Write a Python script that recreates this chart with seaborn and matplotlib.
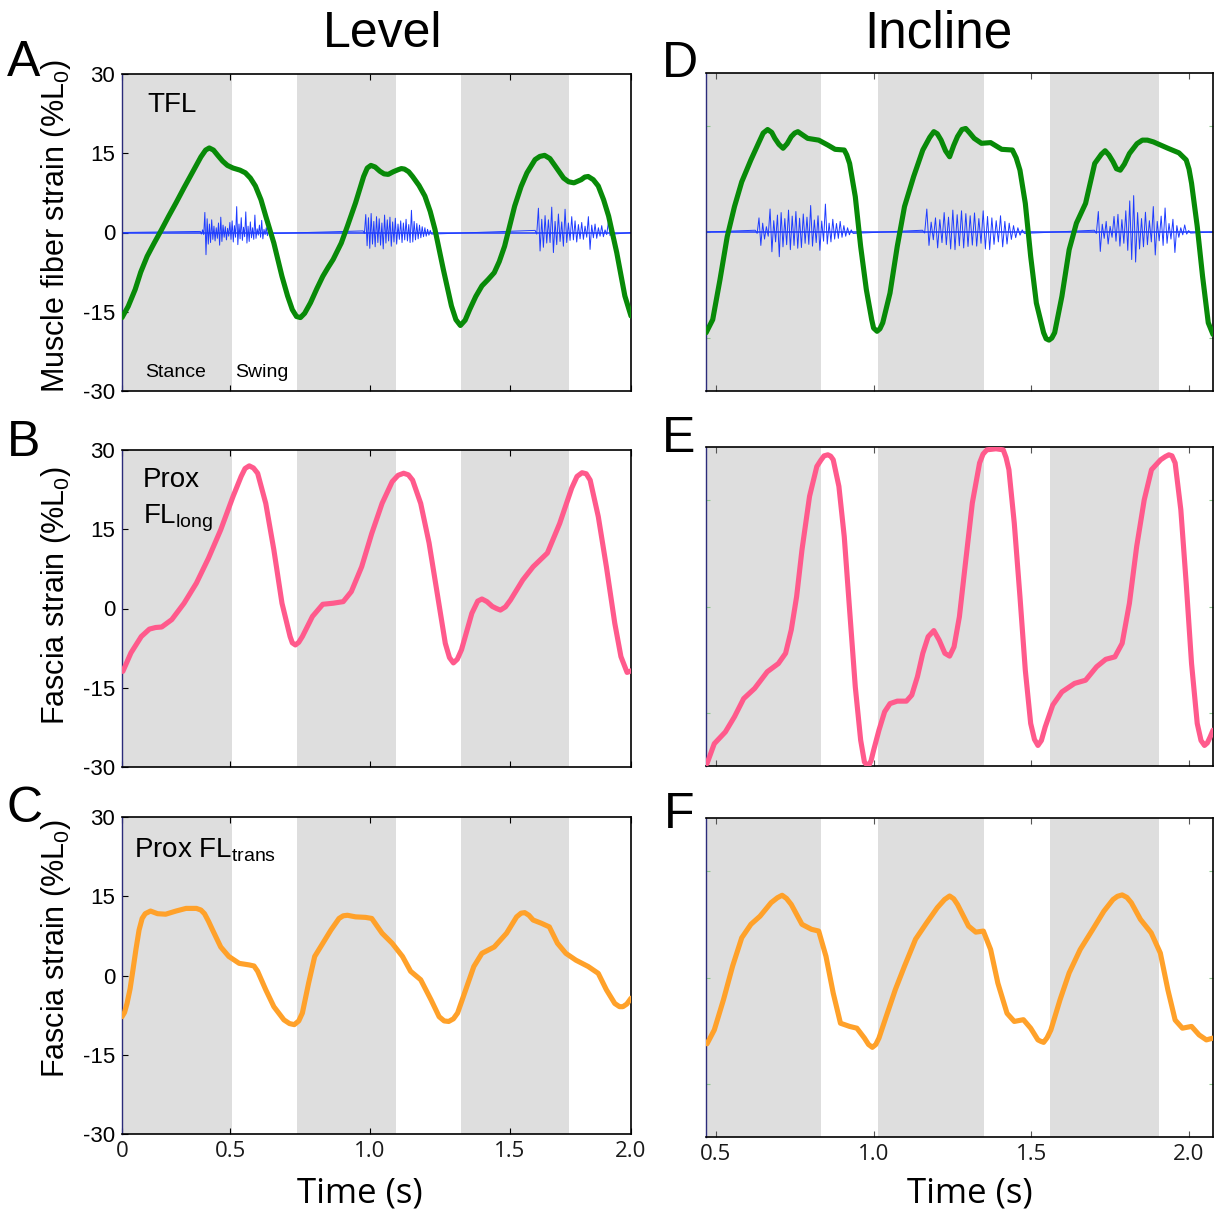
import numpy as np
import pandas as pd
import matplotlib
matplotlib.use("Agg")
import matplotlib.pyplot as plt
import seaborn as sns

# ---------------- data ----------------
level_stance = [(0.05, 0.507), (0.739, 1.092), (1.325, 1.711)]
incline_stance = [(0.40, 0.833), (1.013, 1.349), (1.558, 1.904)]

level_xticks = [0.113, 0.5, 1.0, 1.5, 1.933]
level_xticklabels = ["0", "0.5", "1.0", "1.5", "2.0"]
incline_xticks = [0.5, 1.0, 1.5, 2.0]
incline_xticklabels = ["0.5", "1.0", "1.5", "2.0"]
level_yticks = [-30, -15, 0, 15, 30]
level_yticklabels = ["-30", "-15", "0", "15", "30"]
incline_yticks = [-30, 0, 30]

# A: TFL muscle fibre strain, level
tfl_level_t = [0.113, 0.135, 0.160, 0.180, 0.203, 0.228, 0.255, 0.280, 0.306, 0.335,
               0.364, 0.395, 0.412, 0.425, 0.440, 0.457, 0.473, 0.490, 0.510, 0.535,
               0.554, 0.572, 0.590, 0.610, 0.627, 0.656, 0.685, 0.705, 0.722, 0.737,
               0.751, 0.766, 0.787, 0.810, 0.831, 0.850, 0.868, 0.897, 0.919, 0.948,
               0.977, 0.990, 1.003, 1.018, 1.035, 1.050, 1.065, 1.083, 1.101, 1.112,
               1.123, 1.138, 1.152, 1.175, 1.196, 1.215, 1.232, 1.262, 1.291, 1.307,
               1.323, 1.340, 1.356, 1.378, 1.400, 1.422, 1.444, 1.462, 1.481, 1.517,
               1.540, 1.561, 1.590, 1.607, 1.624, 1.643, 1.663, 1.692, 1.710, 1.729,
               1.755, 1.768, 1.780, 1.798, 1.816, 1.835, 1.853, 1.882, 1.911, 1.933]
tfl_level_v = [-16.1, -14.0, -10.8, -7.5, -4.5, -2.0, 0.6, 3.1, 5.6, 8.5,
               11.3, 14.3, 15.6, 16.0, 15.6, 14.5, 13.5, 12.7, 12.2, 11.8,
               11.3, 10.3, 8.8, 6.2, 3.1, -2.0, -8.3, -12.0, -14.6, -15.9,
               -16.1, -15.3, -13.3, -10.6, -8.3, -6.6, -5.1, -2.0, 1.2, 5.6,
               10.6, 12.2, 12.7, 12.4, 11.6, 11.1, 11.0, 11.5, 11.9, 12.1,
               12.0, 11.5, 10.6, 8.9, 6.9, 4.0, 0.6, -7.0, -13.9, -16.5,
               -17.6, -16.6, -14.6, -12.1, -10.1, -8.9, -7.6, -5.5, -2.6, 5.0,
               8.7, 11.3, 13.8, 14.4, 14.6, 14.0, 12.5, 10.3, 9.6, 9.4,
               10.0, 10.5, 10.6, 10.0, 8.8, 6.2, 3.1, -3.8, -12.0, -15.8]

# B: proximal fascia lata, longitudinal, level
flong_level_t = [0.116, 0.145, 0.182, 0.211, 0.233, 0.255, 0.291, 0.335, 0.379, 0.422,
                 0.466, 0.510, 0.539, 0.553, 0.568, 0.583, 0.598, 0.627, 0.656, 0.685,
                 0.714, 0.722, 0.733, 0.745, 0.758, 0.794, 0.831, 0.868, 0.904, 0.933,
                 0.970, 1.006, 1.043, 1.079, 1.100, 1.120, 1.137, 1.152, 1.181, 1.211,
                 1.240, 1.269, 1.284, 1.298, 1.312, 1.327, 1.364, 1.385, 1.400, 1.418,
                 1.437, 1.452, 1.466, 1.484, 1.502, 1.546, 1.583, 1.634, 1.678, 1.721,
                 1.740, 1.758, 1.773, 1.787, 1.816, 1.845, 1.875, 1.897, 1.919, 1.933]
flong_level_v = [-11.9, -8.4, -5.3, -3.9, -3.6, -3.5, -2.1, 1.0, 4.8, 9.5,
                 14.9, 21.2, 25.0, 26.5, 27.0, 26.6, 25.6, 19.9, 11.1, 1.0,
                 -5.3, -6.5, -6.9, -6.4, -5.3, -1.5, 0.8, 1.0, 1.3, 3.2,
                 7.9, 14.2, 19.9, 24.0, 25.2, 25.6, 25.3, 24.3, 19.9, 12.4,
                 2.9, -6.6, -9.3, -10.3, -9.6, -7.8, -0.9, 1.4, 1.8, 1.3,
                 0.4, 0.0, -0.3, 0.3, 1.6, 5.4, 7.9, 10.5, 16.1, 22.8,
                 25.0, 25.7, 25.5, 24.3, 17.4, 7.9, -2.8, -9.1, -12.1, -11.8]

# C: proximal fascia lata, transverse, level
ftrans_level_t = [0.113, 0.122, 0.131, 0.142, 0.152, 0.163, 0.174, 0.185, 0.196, 0.215,
                  0.240, 0.269, 0.306, 0.342, 0.379, 0.395, 0.408, 0.422, 0.437, 0.466,
                  0.495, 0.532, 0.568, 0.585, 0.598, 0.627, 0.656, 0.692, 0.712, 0.729,
                  0.745, 0.758, 0.780, 0.802, 0.831, 0.860, 0.889, 0.904, 0.919, 0.948,
                  0.984, 1.006, 1.043, 1.079, 1.116, 1.145, 1.181, 1.218, 1.247, 1.265,
                  1.281, 1.298, 1.313, 1.342, 1.371, 1.400, 1.444, 1.488, 1.524, 1.540,
                  1.553, 1.568, 1.583, 1.612, 1.641, 1.670, 1.700, 1.736, 1.780, 1.816,
                  1.845, 1.875, 1.892, 1.904, 1.918, 1.933]
ftrans_level_v = [-7.8, -7.0, -5.3, -2.5, 1.0, 5.0, 8.6, 10.8, 11.7, 12.2,
                  11.7, 11.6, 12.2, 12.7, 12.7, 12.4, 11.7, 10.3, 8.6, 5.4,
                  3.6, 2.3, 2.0, 1.8, 0.8, -2.7, -5.9, -8.4, -9.1, -9.3,
                  -8.6, -7.1, -1.5, 3.6, 6.1, 8.6, 10.8, 11.3, 11.4, 11.1,
                  11.0, 10.8, 8.0, 6.1, 3.6, 0.8, -0.8, -4.6, -7.8, -8.6,
                  -8.7, -8.2, -7.1, -2.7, 1.7, 4.2, 5.4, 8.0, 11.1, 11.8,
                  11.9, 11.4, 10.5, 9.9, 9.2, 6.1, 4.2, 2.9, 1.7, 0.4,
                  -2.7, -5.3, -5.9, -5.9, -5.4, -4.3]

# D: TFL, incline
tfl_incl_t = [0.469, 0.490, 0.513, 0.536, 0.559, 0.582, 0.611, 0.635, 0.650, 0.664,
              0.677, 0.687, 0.700, 0.713, 0.726, 0.739, 0.750, 0.760, 0.773, 0.791,
              0.826, 0.855, 0.878, 0.907, 0.915, 0.924, 0.942, 0.959, 0.977, 0.994,
              1.000, 1.011, 1.020, 1.029, 1.052, 1.075, 1.098, 1.127, 1.156, 1.178,
              1.191, 1.202, 1.214, 1.228, 1.241, 1.254, 1.266, 1.280, 1.292, 1.305,
              1.319, 1.342, 1.371, 1.406, 1.440, 1.452, 1.464, 1.481, 1.498, 1.516,
              1.539, 1.547, 1.556, 1.565, 1.574, 1.597, 1.620, 1.643, 1.672, 1.701,
              1.722, 1.734, 1.746, 1.759, 1.770, 1.782, 1.795, 1.811, 1.835, 1.852,
              1.868, 1.887, 1.933, 1.968, 1.991, 2.000, 2.008, 2.026, 2.043, 2.061, 2.076]
tfl_incl_v = [-28.5, -24.8, -13.5, -1.3, 7.2, 14.2, 20.4, 25.1, 28.0, 29.0,
              28.2, 26.5, 24.8, 23.7, 25.0, 27.0, 28.0, 28.4, 27.6, 26.5,
              26.0, 24.6, 23.4, 23.2, 21.8, 19.4, 10.0, -4.1, -16.3, -24.8,
              -27.2, -28.1, -27.4, -25.7, -17.3, -4.1, 7.2, 15.7, 23.2, 26.8,
              28.4, 27.8, 26.0, 23.0, 21.3, 24.5, 27.0, 29.0, 29.3, 28.0,
              26.5, 25.1, 25.3, 23.4, 23.2, 21.0, 17.5, 8.1, -6.9, -20.1,
              -28.5, -30.2, -30.6, -30.0, -28.5, -18.2, -5.0, 2.5, 8.1, 19.4,
              22.0, 23.0, 21.8, 19.9, 17.9, 17.5, 19.2, 22.2, 25.0, 26.0,
              26.0, 25.5, 23.7, 22.4, 20.4, 17.8, 13.8, 1.6, -12.6, -25.7, -29.0]

# E: Prox FL long, incline
flong_incl_t = [0.472, 0.495, 0.530, 0.559, 0.588, 0.623, 0.663, 0.698, 0.721, 0.739,
                0.756, 0.773, 0.797, 0.820, 0.833, 0.843, 0.855, 0.864, 0.872, 0.890,
                0.907, 0.924, 0.942, 0.959, 0.971, 0.978, 0.985, 0.992, 1.000, 1.017,
                1.035, 1.052, 1.075, 1.104, 1.121, 1.139, 1.156, 1.173, 1.191, 1.208,
                1.226, 1.241, 1.255, 1.272, 1.290, 1.313, 1.336, 1.347, 1.359, 1.388,
                1.411, 1.420, 1.429, 1.446, 1.464, 1.481, 1.498, 1.510, 1.521, 1.532,
                1.544, 1.568, 1.597, 1.637, 1.672, 1.707, 1.736, 1.765, 1.788, 1.811,
                1.834, 1.858, 1.881, 1.910, 1.925, 1.936, 1.946, 1.956, 1.974, 1.991,
                2.008, 2.026, 2.038, 2.049, 2.058, 2.067, 2.076]
flong_incl_v = [-44.3, -38.7, -35.4, -31.1, -26.0, -23.1, -18.4, -16.1, -13.2, -6.6,
                2.8, 16.0, 31.1, 39.5, 41.3, 42.5, 42.8, 42.4, 41.4, 33.9,
                19.7, -1.0, -22.7, -37.7, -43.9, -44.6, -44.8, -43.5, -40.6, -34.9,
                -29.7, -27.4, -26.7, -26.7, -25.0, -19.8, -13.2, -8.5, -6.8, -9.5,
                -13.2, -14.0, -11.4, -2.9, 11.3, 29.2, 40.5, 43.0, 44.2, 44.5,
                44.2, 42.0, 38.6, 23.5, 2.8, -18.0, -33.0, -37.5, -39.2, -37.8,
                -34.0, -27.8, -24.1, -21.7, -20.8, -17.0, -14.9, -14.2, -10.4, 0.9,
                16.9, 30.1, 38.6, 41.4, 42.3, 42.8, 42.5, 40.5, 27.3, 6.6,
                -16.1, -33.0, -37.8, -39.2, -38.5, -36.8, -34.9]

# F: Prox FL trans, incline
ftrans_incl_t = [0.472, 0.495, 0.524, 0.553, 0.582, 0.611, 0.640, 0.675, 0.695, 0.710,
                 0.724, 0.739, 0.773, 0.803, 0.826, 0.849, 0.872, 0.895, 0.924, 0.947,
                 0.971, 0.984, 0.996, 1.007, 1.017, 1.040, 1.069, 1.098, 1.133, 1.168,
                 1.202, 1.225, 1.241, 1.254, 1.266, 1.301, 1.324, 1.348, 1.371, 1.394,
                 1.423, 1.446, 1.475, 1.498, 1.521, 1.530, 1.539, 1.550, 1.562, 1.591,
                 1.620, 1.655, 1.695, 1.730, 1.759, 1.773, 1.788, 1.803, 1.817, 1.846,
                 1.880, 1.909, 1.933, 1.956, 1.979, 2.008, 2.032, 2.055, 2.076]
ftrans_incl_v = [-18.7, -14.8, -6.3, 3.2, 11.2, 15.0, 17.3, 21.1, 22.5, 23.2,
                 22.3, 20.6, 15.0, 13.6, 13.1, 6.0, -4.4, -12.9, -13.8, -14.3,
                 -17.1, -18.9, -19.7, -18.9, -17.1, -11.0, -3.4, 3.2, 10.8, 15.4,
                 19.7, 22.0, 23.0, 22.2, 20.6, 14.5, 12.8, 13.1, 7.9, -1.6,
                 -10.1, -12.4, -11.9, -14.3, -17.6, -18.0, -18.3, -17.0, -14.8, -6.3,
                 1.3, 7.9, 13.6, 18.7, 22.0, 22.9, 23.3, 22.6, 21.1, 16.4,
                 12.6, 6.9, -3.5, -12.0, -14.3, -13.8, -16.2, -17.6, -17.1]

# EMG bursts (start, end) and spike amplitudes
emg_level_bursts = [(0.393, 0.641), (0.975, 1.220), (1.590, 1.870)]
emg_level_amps = [
    [0.2, -0.3, 0.5, -0.4, 3.8, -4.2, 2.6, -2.2, 1.6, -1.9, 2.4, -1.3, 1.2, -1.6, 0.9, -1.1,
     1.8, -2.4, 2.9, -1.7, 1.4, -0.9, 1.1, -1.4, 0.8, -0.7, 1.9, -1.3, 2.2, -1.8, 1.3, -0.9,
     4.9, -2.3, 1.6, -1.2, 2.8, -1.5, 1.0, -0.8, 3.9, -2.0, 1.2, -1.7, 2.0, -1.0, 0.9, -1.3,
     3.3, -1.1, 0.7, -0.5, 1.4, -0.9, 2.3, -1.2, 0.6, -0.4, 0.9, -0.6, 0.3, -0.2],
    [0.3, -0.2, 3.4, -2.5, 2.8, -3.0, 3.6, -2.2, 2.1, -2.7, 3.0, -1.9, 2.6, -2.4, 1.8, -3.1,
     3.3, -2.0, 2.4, -1.6, 2.9, -2.6, 2.0, -1.8, 2.7, -2.2, 1.6, -1.3, 2.2, -1.9, 1.8, -1.4,
     2.5, -1.6, 1.5, -1.9, 4.2, -1.8, 2.1, -1.4, 1.7, -1.2, 1.4, -1.0, 1.1, -0.8, 0.9, -0.7,
     0.6, -0.5, 0.4, -0.3],
    [0.4, -0.3, 4.6, -3.5, 2.5, -2.8, 3.2, -2.0, 2.4, -1.9, 4.8, -3.8, 2.1, -2.3, 3.5, -1.7,
     2.0, -2.6, 4.4, -1.9, 1.8, -1.5, 3.0, -1.4, 2.2, -1.8, 1.5, -1.2, 1.9, -1.3, 1.2, -0.9,
     3.0, -3.2, 1.4, -1.0, 1.6, -1.1, 0.9, -0.7, 1.3, -0.8, 0.5, -0.4, 2.0, -0.6, 0.4, -0.3],
]
emg_incl_bursts = [(0.625, 0.935), (1.155, 1.478), (1.700, 2.005)]
emg_incl_amps = [
    [0.5, -0.4, 4.0, -3.8, 2.5, -2.0, 1.5, -1.2, 6.5, -5.6, 3.2, -2.8, 4.8, -7.0, 5.5, -4.2,
     3.8, -3.6, 6.2, -5.0, 4.5, -3.8, 5.8, -4.6, 3.9, -4.4, 5.1, -3.2, 4.2, -3.5, 7.5, -4.0,
     3.4, -3.0, 4.6, -5.2, 3.1, -2.6, 7.9, -3.4, 2.5, -2.8, 3.6, -2.0, 2.4, -1.8, 3.0, -1.5,
     1.8, -1.2, 1.2, -0.8, 0.6, -0.4],
    [0.5, -0.3, 6.5, -3.8, 2.8, -2.2, 4.0, -4.5, 3.5, -3.0, 5.5, -3.6, 4.2, -4.8, 6.2, -5.0,
     4.9, -3.9, 6.0, -4.5, 5.2, -4.1, 4.6, -3.7, 5.4, -4.0, 3.8, -3.2, 6.0, -4.8, 4.4, -5.0,
     4.0, -3.5, 3.2, -2.8, 4.6, -4.2, 3.0, -3.4, 2.5, -2.1, 1.8, -1.6, 1.2, -0.9, 0.6, -0.4],
    [0.5, -0.4, 5.8, -5.5, 2.2, -1.8, 3.0, -3.4, 1.6, -1.5, 4.4, -2.6, 5.0, -4.0, 3.5, -3.2,
     6.0, -5.2, 8.8, -7.8, 10.3, -8.5, 5.5, -4.8, 3.8, -4.2, 5.6, -3.6, 3.2, -2.8, 7.2, -6.5,
     3.0, -2.5, 4.5, -3.8, 6.8, -3.2, 2.4, -2.0, 3.6, -5.8, 1.8, -1.5, 1.2, -0.8, 2.0, -0.6,
     0.4, -0.3],
]

# ---------------- style ----------------
sns.set_theme(style="white")
plt.rcParams["font.family"] = ["Liberation Sans", "DejaVu Sans"]
plt.rcParams["mathtext.fontset"] = "custom"
plt.rcParams["mathtext.rm"] = "Liberation Sans"
plt.rcParams["mathtext.it"] = "Liberation Sans:italic"
plt.rcParams["mathtext.bf"] = "Liberation Sans:bold"
for key in ["text.color", "axes.labelcolor", "xtick.color", "ytick.color"]:
    plt.rcParams[key] = "black"

GREEN = "#088a08"
PINK = "#ff5a8c"
ORANGE = "#ffa12a"
EMG_BLUE = "#1e3cff"
GRAY = "#dedede"

W, H = 1215, 1214
fig = plt.figure(figsize=(W / 100, H / 100), dpi=100)


def rect(l, t, r, b):
    return [l / W, 1 - b / H, (r - l) / W, (b - t) / H]


def fx(x):
    return x / W


def fy(y):
    return 1 - y / H


def emg_series(xlim, bursts, amps):
    ts, vs = [xlim[0]], [0.0]
    for (s, e), a in zip(bursts, amps):
        ts += list(np.linspace(s, e, len(a)))
        vs += list(a)
    ts.append(xlim[1])
    vs.append(0.0)
    return ts, vs


def draw(ax, t, v, color, xlim, ylim, stance, emg=None):
    for s, e in stance:
        ax.axvspan(s, e, color=GRAY, lw=0, zorder=0)
    if emg is not None:
        sns.lineplot(x=[xlim[0], xlim[1]], y=[0, 0], ax=ax, color=EMG_BLUE, lw=1.1,
                     sort=False, estimator=None, zorder=2)
        sns.lineplot(x=emg[0], y=emg[1], ax=ax, color=EMG_BLUE, lw=0.7,
                     sort=False, estimator=None, zorder=2)
    sns.lineplot(x=t, y=v, ax=ax, color=color, lw=3.7, sort=False,
                 estimator=None, zorder=3, solid_joinstyle="round",
                 solid_capstyle="round")
    ax.set_xlim(xlim)
    ax.set_ylim(ylim)
    ax.set_xlabel("")
    ax.set_ylabel("")
    for side in ["top", "right", "bottom"]:
        ax.spines[side].set_color("black")
        ax.spines[side].set_linewidth(1.2)
    ax.spines["left"].set_color("#2b2b7a")
    ax.spines["left"].set_linewidth(1.0)
    ax.set_facecolor("white")


LX = (0.113, 1.933)
RX = (0.4687, 2.076)

level_rects = [rect(122, 74, 631, 391), rect(122, 450, 631, 767), rect(122, 817, 631, 1134)]
incl_rects = [rect(706, 73, 1213, 391), rect(706, 447, 1213, 766), rect(706, 818, 1213, 1137)]

level_series = [(tfl_level_t, tfl_level_v, GREEN),
                (flong_level_t, flong_level_v, PINK),
                (ftrans_level_t, ftrans_level_v, ORANGE)]
incl_series = [(tfl_incl_t, tfl_incl_v, GREEN),
               (flong_incl_t, flong_incl_v, PINK),
               (ftrans_incl_t, ftrans_incl_v, ORANGE)]

for i in range(3):
    # level column
    ax = fig.add_axes(level_rects[i])
    t, v, c = level_series[i]
    emg = emg_series(LX, emg_level_bursts, emg_level_amps) if i == 0 else None
    draw(ax, t, v, c, LX, (-30, 30), level_stance, emg)
    ax.set_xticks(level_xticks)
    ax.set_xticklabels(level_xticklabels if i == 2 else [""] * len(level_xticks))
    ax.set_yticks(level_yticks)
    ax.set_yticklabels(level_yticklabels)
    ax.tick_params(axis="x", direction="in", length=4, width=0.8, top=True, bottom=True,
                   labelsize=16, pad=5, colors="black")
    ax.tick_params(axis="y", direction="in", length=4, width=0.8, left=True, right=False,
                   labelsize=16, pad=5, colors="black")
    for lab in ax.get_xticklabels():
        lab.set_fontfamily(["Open Sans", "DejaVu Sans"])
        lab.set_color("#1a1a1a")

    # incline column
    ax = fig.add_axes(incl_rects[i])
    t, v, c = incl_series[i]
    emg = emg_series(RX, emg_incl_bursts, emg_incl_amps) if i == 0 else None
    draw(ax, t, v, c, RX, (-45, 45), incline_stance, emg)
    ax.set_xticks(incline_xticks)
    ax.set_xticklabels(incline_xticklabels if i == 2 else [""] * len(incline_xticks))
    ax.set_yticks(incline_yticks)
    ax.set_yticklabels([""] * len(incline_yticks))
    ax.tick_params(axis="x", direction="in", length=4, width=0.8, top=True, bottom=True,
                   labelsize=16, pad=5, color="#555555", labelcolor="black")
    ax.tick_params(axis="y", direction="in", length=3, width=0.8, left=True, right=True,
                   color="#8fc88f")
    for lab in ax.get_xticklabels():
        lab.set_fontfamily(["Open Sans", "DejaVu Sans"])
        lab.set_color("#1a1a1a")

# ---------------- text ----------------
fig.text(fx(383), fy(47), "Level", fontsize=36, ha="center", va="baseline")
fig.text(fx(938), fy(47), "Incline", fontsize=37, ha="center", va="baseline")

for letter, x, y in [("A", 24, 76), ("B", 24, 456), ("C", 25, 822),
                     ("D", 680, 77), ("E", 679, 452), ("F", 679, 828)]:
    fig.text(fx(x), fy(y), letter, fontsize=36, ha="center", va="baseline")

ylab_kw = dict(fontsize=22, rotation=90, rotation_mode="anchor", ha="center", va="baseline")
fig.text(fx(64), fy(226), r"Muscle fiber strain (%L$_{\mathregular{0}}$)", **ylab_kw)
fig.text(fx(64), fy(596), r"Fascia strain (%L$_{\mathregular{0}}$)", **ylab_kw)
fig.text(fx(64), fy(949), r"Fascia strain (%L$_{\mathregular{0}}$)", **ylab_kw)

fig.text(fx(147), fy(112), "TFL", fontsize=20, ha="left", va="baseline")
fig.text(fx(145), fy(377), "Stance", fontsize=14, ha="left", va="baseline")
fig.text(fx(235), fy(377), "Swing", fontsize=14, ha="left", va="baseline")
fig.text(fx(143), fy(487), "Prox", fontsize=20, ha="left", va="baseline")
fig.text(fx(143), fy(523), r"FL$_{\mathregular{long}}$", fontsize=20, ha="left", va="baseline")
fig.text(fx(134), fy(857), r"Prox FL$_{\mathregular{trans}}$", fontsize=20, ha="left", va="baseline")

for x in (360, 970):
    fig.text(fx(x), fy(1203), "Time (s)", fontsize=25, ha="center", va="baseline",
             family=["Open Sans", "DejaVu Sans"])

fig.savefig("out.png", dpi=100, facecolor="white")
